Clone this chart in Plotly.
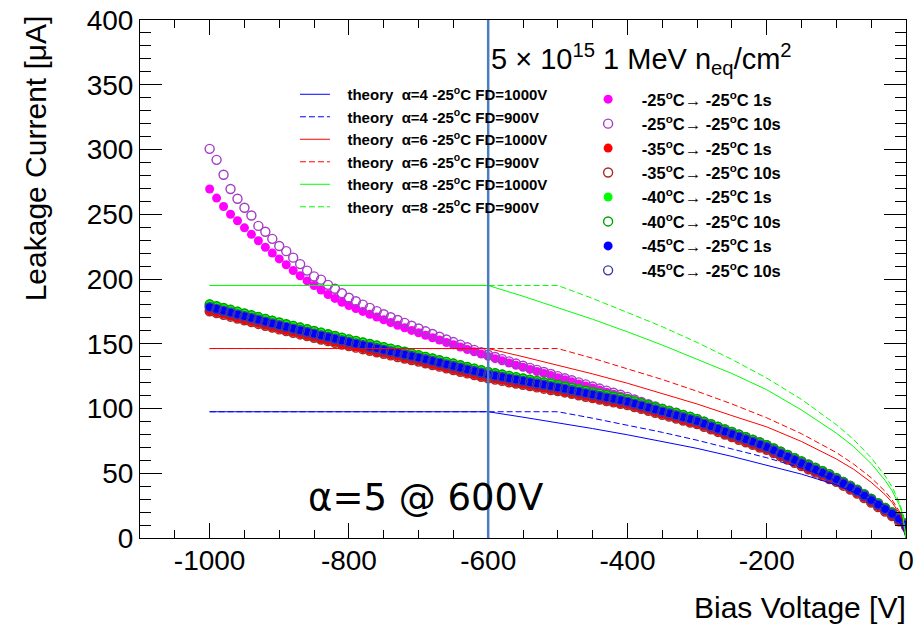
import plotly.graph_objects as go

# Bias sweep (V) shared by all measured IV curves
VOLTAGE = [
    -1000, -990, -980, -970, -960, -950, -940, -930, -920, -910,
    -900, -890, -880, -870, -860, -850, -840, -830, -820, -810,
    -800, -790, -780, -770, -760, -750, -740, -730, -720, -710,
    -700, -690, -680, -670, -660, -650, -640, -630, -620, -610,
    -600, -590, -580, -570, -560, -550, -540, -530, -520, -510,
    -500, -490, -480, -470, -460, -450, -440, -430, -420, -410,
    -400, -390, -380, -370, -360, -350, -340, -330, -320, -310,
    -300, -290, -280, -270, -260, -250, -240, -230, -220, -210,
    -200, -190, -180, -170, -160, -150, -140, -130, -120, -110,
    -100, -90, -80, -70, -60, -50, -40, -30, -20, -10,
    0,
]

# Measured leakage current (uA), cooled at T_start then measured at -25 C
I_M25_1S = [
    269.5, 262.5, 256.0, 250.0, 245.0, 239.5, 234.5, 229.5, 224.5, 220.0,
    215.5, 211.0, 206.5, 202.5, 198.5, 195.0, 191.5, 188.0, 185.0, 182.0,
    179.5, 177.2, 175.0, 172.8, 170.6, 168.5, 166.4, 164.3, 162.3, 160.3,
    158.4, 156.5, 154.6, 152.8, 151.0, 149.2, 147.4, 145.6, 143.8, 142.0,
    140.2, 138.5, 136.8, 135.1, 133.4, 131.8, 130.2, 128.6, 127.0, 125.4,
    123.8, 122.2, 120.6, 119.0, 117.4, 115.8, 114.2, 112.6, 111.0, 109.5,
    108.0, 106.3, 104.6, 103.0, 101.4, 99.8, 98.2, 96.7, 95.2, 93.7,
    91.9, 89.9, 87.9, 85.9, 83.9, 81.9, 79.9, 77.9, 75.9, 73.9,
    71.7, 69.2, 66.7, 64.2, 61.7, 59.2, 56.7, 54.2, 51.7, 49.2,
    46.3, 43.3, 40.3, 37.3, 33.8, 30.3, 26.8, 23.3, 19.8, 15.8,
    11.3,
]
I_M25_10S = [
    300.5, 292.0, 280.5, 269.5, 262.0, 255.0, 249.0, 241.0, 236.5, 231.0,
    225.5, 221.5, 216.5, 211.5, 206.5, 202.0, 199.5, 195.5, 192.5, 189.0,
    185.5, 182.8, 180.2, 177.7, 175.2, 172.8, 170.5, 168.3, 166.1, 163.9,
    161.8, 159.6, 157.5, 155.4, 153.3, 151.3, 149.3, 147.3, 145.3, 143.4,
    141.5, 139.8, 138.1, 136.4, 134.7, 133.0, 131.4, 129.8, 128.2, 126.6,
    125.0, 123.4, 121.8, 120.2, 118.6, 117.0, 115.4, 113.8, 112.2, 110.6,
    109.0, 107.0, 105.0, 103.3, 101.6, 99.9, 98.3, 96.7, 95.1, 93.6,
    91.9, 89.9, 87.9, 85.9, 83.9, 81.9, 79.9, 77.9, 75.9, 73.9,
    71.7, 69.2, 66.7, 64.2, 61.7, 59.2, 56.7, 54.2, 51.7, 49.2,
    46.3, 43.3, 40.3, 37.3, 33.8, 30.3, 26.8, 23.3, 19.8, 15.8,
    11.3,
]
I_M35_1S = [
    175.5, 174.1, 172.7, 171.3, 169.9, 168.5, 167.1, 165.7, 164.3, 162.9,
    161.5, 160.2, 158.9, 157.6, 156.3, 155.0, 153.7, 152.4, 151.1, 149.8,
    148.6, 147.4, 146.2, 145.0, 143.8, 142.6, 141.4, 140.2, 139.0, 137.8,
    136.6, 135.3, 134.0, 132.7, 131.4, 130.1, 128.8, 127.5, 126.2, 124.9,
    123.7, 122.7, 121.7, 120.7, 119.7, 118.7, 117.7, 116.7, 115.7, 114.7,
    113.8, 112.7, 111.6, 110.5, 109.4, 108.3, 107.2, 106.1, 105.0, 103.9,
    103.0, 101.5, 100.0, 98.5, 97.0, 95.5, 94.0, 92.5, 91.0, 89.5,
    88.2, 86.2, 84.2, 82.2, 80.2, 78.2, 76.2, 74.2, 72.2, 70.2,
    68.4, 65.9, 63.4, 60.9, 58.4, 55.9, 53.4, 50.9, 48.4, 45.9,
    43.7, 40.7, 37.7, 34.7, 31.2, 27.7, 24.2, 20.7, 17.2, 13.2,
    9.0,
]
I_M35_10S = [
    175.1, 173.7, 172.3, 170.9, 169.5, 168.1, 166.7, 165.3, 163.9, 162.5,
    161.1, 159.8, 158.5, 157.2, 155.9, 154.6, 153.3, 152.0, 150.7, 149.4,
    148.2, 147.0, 145.8, 144.6, 143.4, 142.2, 141.0, 139.8, 138.6, 137.4,
    136.2, 134.9, 133.6, 132.3, 131.0, 129.7, 128.4, 127.1, 125.8, 124.5,
    123.3, 122.3, 121.3, 120.3, 119.3, 118.3, 117.3, 116.3, 115.3, 114.3,
    113.5, 112.4, 111.3, 110.2, 109.1, 108.0, 106.9, 105.8, 104.7, 103.6,
    102.7, 101.2, 99.7, 98.2, 96.7, 95.2, 93.7, 92.2, 90.7, 89.2,
    87.9, 85.9, 83.9, 81.9, 79.9, 77.9, 75.9, 73.9, 71.9, 69.9,
    68.1, 65.6, 63.1, 60.6, 58.1, 55.6, 53.1, 50.6, 48.1, 45.6,
    43.4, 40.4, 37.4, 34.4, 30.9, 27.4, 23.9, 20.4, 16.9, 12.9,
    8.8,
]
I_M40_1S = [
    180.8, 179.4, 178.0, 176.6, 175.2, 173.8, 172.4, 171.0, 169.6, 168.2,
    166.8, 165.5, 164.2, 162.9, 161.6, 160.3, 159.0, 157.7, 156.4, 155.1,
    153.8, 152.6, 151.4, 150.2, 149.0, 147.8, 146.6, 145.4, 144.2, 143.0,
    141.6, 140.3, 139.0, 137.7, 136.4, 135.1, 133.8, 132.5, 131.2, 129.9,
    128.6, 127.6, 126.6, 125.6, 124.6, 123.6, 122.6, 121.6, 120.6, 119.6,
    118.5, 117.4, 116.3, 115.2, 114.1, 113.0, 111.9, 110.8, 109.7, 108.6,
    107.4, 105.9, 104.4, 102.9, 101.4, 99.9, 98.4, 96.9, 95.4, 93.9,
    92.2, 90.2, 88.2, 86.2, 84.2, 82.2, 80.2, 78.2, 76.2, 74.2,
    72.0, 69.5, 67.0, 64.5, 62.0, 59.5, 57.0, 54.5, 52.0, 49.5,
    46.6, 43.6, 40.6, 37.6, 34.1, 30.6, 27.1, 23.6, 20.1, 16.1,
    11.5,
]
I_M40_10S = [
    180.4, 179.0, 177.6, 176.2, 174.8, 173.4, 172.0, 170.6, 169.2, 167.8,
    166.4, 165.1, 163.8, 162.5, 161.2, 159.9, 158.6, 157.3, 156.0, 154.7,
    153.4, 152.2, 151.0, 149.8, 148.6, 147.4, 146.2, 145.0, 143.8, 142.6,
    141.2, 139.9, 138.6, 137.3, 136.0, 134.7, 133.4, 132.1, 130.8, 129.5,
    128.2, 127.2, 126.2, 125.2, 124.2, 123.2, 122.2, 121.2, 120.2, 119.2,
    118.1, 117.0, 115.9, 114.8, 113.7, 112.6, 111.5, 110.4, 109.3, 108.2,
    107.0, 105.5, 104.0, 102.5, 101.0, 99.5, 98.0, 96.5, 95.0, 93.5,
    91.8, 89.8, 87.8, 85.8, 83.8, 81.8, 79.8, 77.8, 75.8, 73.8,
    71.6, 69.1, 66.6, 64.1, 61.6, 59.1, 56.6, 54.1, 51.6, 49.1,
    46.2, 43.2, 40.2, 37.2, 33.7, 30.2, 26.7, 23.2, 19.7, 15.7,
    11.2,
]
I_M45_1S = [
    178.0, 176.6, 175.2, 173.8, 172.4, 171.0, 169.6, 168.2, 166.8, 165.4,
    164.0, 162.7, 161.4, 160.1, 158.8, 157.5, 156.2, 154.9, 153.6, 152.3,
    151.0, 149.8, 148.6, 147.4, 146.2, 145.0, 143.8, 142.6, 141.4, 140.2,
    139.0, 137.7, 136.4, 135.1, 133.8, 132.5, 131.2, 129.9, 128.6, 127.3,
    126.0, 125.0, 124.0, 123.0, 122.0, 121.0, 120.0, 119.0, 118.0, 117.0,
    116.0, 114.9, 113.8, 112.7, 111.6, 110.5, 109.4, 108.3, 107.2, 106.1,
    105.0, 103.5, 102.0, 100.5, 99.0, 97.5, 96.0, 94.5, 93.0, 91.5,
    90.0, 88.0, 86.0, 84.0, 82.0, 80.0, 78.0, 76.0, 74.0, 72.0,
    70.0, 67.5, 65.0, 62.5, 60.0, 57.5, 55.0, 52.5, 50.0, 47.5,
    45.0, 42.0, 39.0, 36.0, 32.5, 29.0, 25.5, 22.0, 18.5, 14.5,
    10.0,
]
I_M45_10S = [
    178.3, 176.9, 175.5, 174.1, 172.7, 171.3, 169.9, 168.5, 167.1, 165.7,
    164.3, 163.0, 161.7, 160.4, 159.1, 157.8, 156.5, 155.2, 153.9, 152.6,
    151.3, 150.1, 148.9, 147.7, 146.5, 145.3, 144.1, 142.9, 141.7, 140.5,
    139.3, 138.0, 136.7, 135.4, 134.1, 132.8, 131.5, 130.2, 128.9, 127.6,
    126.3, 125.3, 124.3, 123.3, 122.3, 121.3, 120.3, 119.3, 118.3, 117.3,
    116.3, 115.2, 114.1, 113.0, 111.9, 110.8, 109.7, 108.6, 107.5, 106.4,
    105.3, 103.8, 102.3, 100.8, 99.3, 97.8, 96.3, 94.8, 93.3, 91.8,
    90.3, 88.3, 86.3, 84.3, 82.3, 80.3, 78.3, 76.3, 74.3, 72.3,
    70.3, 67.8, 65.3, 62.8, 60.3, 57.8, 55.3, 52.8, 50.3, 47.8,
    45.3, 42.3, 39.3, 36.3, 32.8, 29.3, 25.8, 22.3, 18.8, 14.8,
    10.3,
]

# Theory curves (uA) on a coarser voltage grid
THEORY_V = [-1000, -900, -800, -700, -600, -550, -500, -450, -400, -350, -300,
            -250, -200, -150, -100, -75, -50, -30, -20, -10, -5, 0]
TH_A4_FD1000 = [97.5, 97.5, 97.5, 97.5, 97.5, 93.3, 89.0, 84.5, 79.7, 74.6, 69.2,
                63.0, 56.3, 49.3, 41.0, 35.5, 28.5, 22.0, 18.0, 12.5, 8.5, 0.0]
TH_A4_FD900 = [97.5, 97.5, 97.5, 97.5, 97.5, 97.5, 97.5, 92.5, 87.2, 81.6, 75.5,
               69.0, 62.0, 54.0, 44.5, 38.5, 31.5, 24.5, 20.0, 14.0, 10.0, 0.0]
TH_A6_FD1000 = [146.3, 146.3, 146.3, 146.3, 146.3, 140.0, 133.5, 126.7, 119.5, 111.8, 103.5,
                94.5, 85.8, 74.5, 61.0, 53.0, 43.0, 33.5, 27.5, 19.5, 14.0, 0.0]
TH_A6_FD900 = [146.3, 146.3, 146.3, 146.3, 146.3, 146.3, 146.3, 138.8, 130.9, 122.4, 113.3,
               103.5, 92.8, 80.5, 66.0, 57.0, 46.5, 36.0, 29.5, 21.0, 15.0, 0.0]
TH_A8_FD1000 = [195.0, 195.0, 195.0, 195.0, 195.0, 186.7, 178.0, 168.9, 159.2, 149.0, 138.0,
                127.0, 114.5, 98.8, 81.0, 70.5, 57.5, 44.5, 36.5, 26.0, 18.5, 0.0]
TH_A8_FD900 = [195.0, 195.0, 195.0, 195.0, 195.0, 195.0, 195.0, 185.0, 174.4, 163.2, 151.0,
               137.9, 123.5, 107.0, 87.5, 76.0, 62.0, 48.0, 39.5, 28.0, 20.0, 0.0]

# Axis tick positions and labels (plain hyphen minus, as in the ROOT output)
X_TICKS = [-1000, -800, -600, -400, -200, 0]
X_TICK_TEXT = ["-1000", "-800", "-600", "-400", "-200", "0"]

REFERENCE_BIAS = -600

FONT = "Liberation Sans, Arial, Helvetica, sans-serif"
DEG = "<sup>o</sup>C"
PAD_R = "\u00a0" * 3
PAD_L = "\u00a0" * 3

measured = [
    (I_M25_1S, f"-25{DEG}\u2192 -25{DEG} 1s", "#ff00ff", "circle"),
    (I_M25_10S, f"-25{DEG}\u2192 -25{DEG} 10s", "#a43cc4", "circle-open"),
    (I_M35_1S, f"-35{DEG}\u2192 -25{DEG} 1s", "#ff0000", "circle"),
    (I_M35_10S, f"-35{DEG}\u2192 -25{DEG} 10s", "#a52a2a", "circle-open"),
    (I_M40_1S, f"-40{DEG}\u2192 -25{DEG} 1s", "#00ff00", "circle"),
    (I_M40_10S, f"-40{DEG}\u2192 -25{DEG} 10s", "#00a000", "circle-open"),
    (I_M45_1S, f"-45{DEG}\u2192 -25{DEG} 1s", "#0000ff", "circle"),
    (I_M45_10S, f"-45{DEG}\u2192 -25{DEG} 10s", "#3a3aa8", "circle-open"),
]

theory = [
    (TH_A4_FD1000, f"theory  \u03b1=4 -25{DEG} FD=1000V", "#0000ff", "solid"),
    (TH_A4_FD900, f"theory  \u03b1=4 -25{DEG} FD=900V", "#0000ff", "6px,3px"),
    (TH_A6_FD1000, f"theory  \u03b1=6 -25{DEG} FD=1000V", "#ff0000", "solid"),
    (TH_A6_FD900, f"theory  \u03b1=6 -25{DEG} FD=900V", "#ff0000", "6px,3px"),
    (TH_A8_FD1000, f"theory  \u03b1=8 -25{DEG} FD=1000V", "#00ff00", "solid"),
    (TH_A8_FD900, f"theory  \u03b1=8 -25{DEG} FD=900V", "#00ff00", "6px,3px"),
]

fig = go.Figure()

for values, name, color, symbol in measured:
    is_open = symbol.endswith("open")
    fig.add_trace(go.Scatter(
        x=VOLTAGE, y=values, mode="markers", name=PAD_R + name, legend="legend2",
        marker=dict(symbol=symbol, size=9, color=color,
                    line=dict(color=color, width=1.4 if is_open else 0)),
    ))

for values, name, color, dash in theory:
    fig.add_trace(go.Scatter(
        x=THEORY_V, y=values, mode="lines", name=PAD_L + name, legend="legend",
        line=dict(color=color, width=1, dash=dash),
    ))

fig.add_vline(x=REFERENCE_BIAS, line=dict(color="#4a7cc0", width=2.5), layer="above")

axis_common = dict(
    showgrid=False, zeroline=False, showline=True, linecolor="black", linewidth=1,
    mirror="ticks", ticks="inside", tickcolor="black", tickwidth=1, automargin=False,
    tickfont=dict(family=FONT, size=28, color="black"),
)

fig.update_xaxes(
    range=[-1100, 0], tickmode="array", tickvals=X_TICKS, ticktext=X_TICK_TEXT,
    ticklen=15,
    minor=dict(tick0=0, dtick=50, ticklen=8, ticks="inside", tickcolor="black"),
    ticklabelstandoff=-3,
    **axis_common,
)
fig.update_yaxes(
    range=[0, 400], tick0=0, dtick=50, ticklen=22,
    minor=dict(dtick=10, ticklen=11, ticks="inside", tickcolor="black"),
    **axis_common,
)

fig.add_annotation(
    text="Bias Voltage [V]", xref="paper", yref="paper", x=1.002, y=-0.135,
    xanchor="right", yanchor="middle", showarrow=False,
    font=dict(family=FONT, size=30, color="black"),
)
fig.add_annotation(
    text="Leakage Current [\u03bcA]", xref="paper", yref="paper", x=-0.137, y=1.013,
    xanchor="center", yanchor="top", textangle=-90, showarrow=False,
    font=dict(family=FONT, size=30, color="black"),
)
fig.add_annotation(
    text="5 \u00d7 10<sup>15</sup> 1 MeV n<sub>eq</sub>/cm<sup>2</sup>",
    x=-599, y=370, xanchor="left", yanchor="middle", showarrow=False,
    font=dict(family=FONT, size=29, color="black"),
)
fig.add_annotation(
    text="\u03b1=5 @ 600V", x=-690, y=31.5, xanchor="center", yanchor="middle",
    showarrow=False, font=dict(family="DejaVu Sans", size=37, color="black"),
)

fig.update_layout(
    width=914, height=627,
    margin=dict(l=140, r=8, t=20, b=89),
    paper_bgcolor="white", plot_bgcolor="white",
    showlegend=True,
    legend=dict(
        x=0.2023, y=0.888, xanchor="left", yanchor="top",
        bgcolor="rgba(0,0,0,0)", borderwidth=0,
        font=dict(family=FONT, size=15, color="black", weight="bold"),
    ),
    legend2=dict(
        x=0.585, y=0.8804, xanchor="left", yanchor="top",
        bgcolor="rgba(0,0,0,0)", borderwidth=0,
        font=dict(family=FONT, size=16.5, color="black", weight="bold"),
    ),
)

fig.write_html("out.html")
